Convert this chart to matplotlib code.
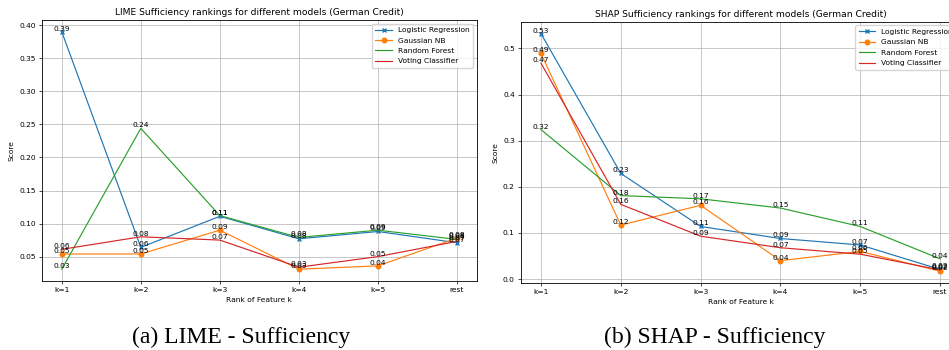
import numpy as np
import matplotlib
matplotlib.use("Agg")
import matplotlib.pyplot as plt

# Rank positions on the x axis
ranks = ["k=1", "k=2", "k=3", "k=4", "k=5", "rest"]
models = ["Logistic Regression", "Gaussian NB", "Random Forest", "Voting Classifier"]

# LIME sufficiency scores
lime_lr = [0.390, 0.064, 0.111, 0.077, 0.088, 0.071]
lime_gnb = [0.054, 0.054, 0.090, 0.031, 0.036, 0.078]
lime_rf = [0.031, 0.244, 0.112, 0.079, 0.090, 0.076]
lime_vc = [0.061, 0.080, 0.075, 0.034, 0.050, 0.073]

# SHAP sufficiency scores
shap_lr = [0.532, 0.229, 0.114, 0.088, 0.074, 0.021]
shap_gnb = [0.489, 0.117, 0.160, 0.040, 0.060, 0.017]
shap_rf = [0.324, 0.181, 0.174, 0.154, 0.114, 0.044]
shap_vc = [0.468, 0.162, 0.093, 0.068, 0.054, 0.020]

colors = ["#1f77b4", "#ff7f0e", "#2ca02c", "#d62728"]
markers = ["x", "o", None, None]

fs = 5.4  # base font size (figure was scaled down in the paper)


def draw_panel(ax, series, title):
    x = np.arange(len(ranks))
    for vals, name, c, m in zip(series, models, colors, markers):
        ax.plot(x, vals, color=c, marker=m, markersize=3.3, linewidth=0.85, label=name)
        for xi, yi in zip(x, vals):
            ax.text(xi, yi, f"{yi:.2f}", ha="center", va="bottom", fontsize=fs)
    ax.set_xticks(x)
    ax.set_xticklabels(ranks)
    ax.tick_params(labelsize=fs, length=2.0, width=0.5, pad=2.5)
    ax.set_title(title, fontsize=6.6, pad=3.5)
    ax.set_xlabel("Rank of Feature k", fontsize=fs, labelpad=2.5)
    ax.set_ylabel("Score", fontsize=fs, labelpad=3)
    ax.grid(True, linewidth=0.5)
    for s in ax.spines.values():
        s.set_linewidth(0.6)
    ax.legend(loc="upper right", fontsize=fs, handlelength=2.2, borderpad=0.45,
              labelspacing=0.55, framealpha=0.8)


fig = plt.figure(figsize=(9.49, 3.5), dpi=100)
ax1 = fig.add_axes([0.0443, 0.197, 0.458, 0.746])
ax2 = fig.add_axes([0.549, 0.191, 0.4626, 0.747])

draw_panel(ax1, [lime_lr, lime_gnb, lime_rf, lime_vc],
           "LIME Sufficiency rankings for different models (German Credit)")
draw_panel(ax2, [shap_lr, shap_gnb, shap_rf, shap_vc],
           "SHAP Sufficiency rankings for different models (German Credit)")

# sub-figure captions
fig.text(0.254, 0.037, "(a) LIME - Sufficiency", ha="center", va="center",
         fontsize=17, family="Liberation Serif")
fig.text(0.753, 0.037, "(b) SHAP - Sufficiency", ha="center", va="center",
         fontsize=17, family="Liberation Serif")

fig.savefig("out.png", dpi=100)
